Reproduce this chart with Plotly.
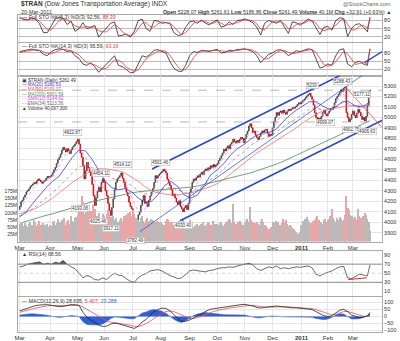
import plotly.graph_objects as go
import pandas as pd

# ---------------- data ----------------
holidays = ["2010-04-02", "2010-05-31", "2010-07-05", "2010-09-06",
            "2010-11-25", "2010-12-24", "2011-01-17", "2011-02-21"]
days = [d for d in pd.bdate_range("2010-03-01", "2011-03-18")
        if d.strftime("%Y-%m-%d") not in holidays]

close_mar10 = [4150, 4195, 4210, 4238, 4260, 4290, 4302, 4318, 4340, 4352, 4365, 4380, 4371, 4395, 4413, 4402, 4385, 4372, 4390, 4397, 4420, 4436, 4428]
close_apr10 = [4436, 4450, 4472, 4498, 4524, 4561, 4598, 4620, 4650, 4688, 4714, 4695, 4670, 4702, 4681, 4655, 4692, 4718, 4729, 4748, 4770]
close_may10 = [4792, 4745, 4660, 4619, 4539, 4413, 4490, 4571, 4520, 4480, 4444, 4360, 4254, 4160, 4230, 4295, 4334, 4290, 4380, 4413]
close_jun10 = [4380, 4300, 4254, 4180, 4110, 4065, 4140, 4223, 4310, 4380, 4413, 4430, 4444, 4470, 4420, 4380, 4330, 4287, 4250, 4190, 4150, 4128]
close_jul10 = [4060, 4002, 3950, 4010, 4070, 4097, 4160, 4210, 4254, 4180, 4192, 4150, 4210, 4250, 4287, 4320, 4380, 4444, 4420, 4445, 4460]
close_aug10 = [4470, 4485, 4505, 4492, 4470, 4410, 4380, 4350, 4310, 4254, 4270, 4230, 4192, 4170, 4205, 4150, 4128, 4100, 4140, 4160, 4120, 4180]
close_sep10 = [4287, 4320, 4380, 4413, 4400, 4425, 4444, 4430, 4460, 4476, 4455, 4490, 4508, 4495, 4520, 4508, 4539, 4525, 4550, 4530, 4545]
close_oct10 = [4560, 4587, 4610, 4634, 4660, 4697, 4680, 4710, 4729, 4700, 4745, 4760, 4792, 4770, 4755, 4780, 4760, 4790, 4810, 4800, 4760]
close_nov10 = [4800, 4839, 4870, 4918, 4940, 4900, 4856, 4870, 4830, 4808, 4790, 4820, 4850, 4871, 4860, 4880, 4887, 4850, 4820, 4840, 4830]
close_dec10 = [4900, 4960, 5000, 5046, 5020, 5050, 5061, 5040, 5070, 5046, 5030, 5060, 5077, 5065, 5080, 5093, 5085, 5100, 5110, 5125, 5141, 5130]
close_jan11 = [5150, 5160, 5172, 5190, 5205, 5219, 5230, 5200, 5172, 5120, 5046, 5000, 4970, 4995, 4966, 5010, 5046, 5070, 5030, 5014]
close_feb11 = [5040, 5061, 5080, 5077, 5100, 5140, 5180, 5200, 5219, 5240, 5265, 5250, 5280, 5288, 5046, 5000, 4960, 4982, 5030]
close_mar11 = [5061, 5020, 4998, 5040, 5077, 5050, 5014, 4980, 5000, 4966, 5010, 5120, 5228.58, 5261.49]
first_open = 4120

vol_mar10 = [62, 58, 71, 55, 66, 60, 52, 64, 70, 58, 61, 75, 68, 57, 63, 72, 59, 54, 66, 61, 58, 64, 52]
vol_apr10 = [60, 55, 68, 72, 58, 65, 80, 62, 70, 75, 66, 85, 59, 71, 78, 64, 90, 73, 68, 82, 88]
vol_may10 = [95, 110, 125, 160, 140, 98, 105, 112, 90, 120, 108, 95, 130, 115, 88, 92, 100, 85, 79, 96]
vol_jun10 = [90, 85, 98, 110, 95, 88, 80, 92, 76, 84, 70, 68, 75, 82, 73, 90, 86, 95, 100, 88, 105, 92]
vol_jul10 = [110, 98, 85, 80, 76, 70, 82, 90, 72, 66, 78, 85, 74, 68, 80, 77, 65, 70, 73, 62, 68]
vol_aug10 = [70, 64, 60, 58, 72, 80, 75, 68, 62, 70, 58, 55, 64, 60, 72, 66, 70, 78, 62, 55, 50, 60]
vol_sep10 = [75, 66, 60, 52, 55, 58, 62, 56, 60, 64, 70, 58, 55, 62, 68, 66, 60, 57, 72, 64, 58]
vol_oct10 = [62, 58, 66, 70, 60, 55, 62, 68, 72, 80, 75, 66, 132, 70, 64, 60, 68, 72, 65, 60, 58]
vol_nov10 = [66, 72, 80, 70, 122, 75, 68, 62, 66, 70, 64, 58, 72, 80, 68, 60, 55, 50, 45, 40, 52]
vol_dec10 = [70, 65, 62, 72, 68, 60, 58, 66, 80, 70, 75, 62, 56, 60, 55, 50, 45, 40, 35, 28, 32, 30]
vol_jan11 = [60, 72, 68, 80, 87, 75, 70, 66, 62, 72, 78, 85, 90, 76, 70, 68, 62, 75, 80, 70]
vol_feb11 = [75, 80, 90, 115, 85, 78, 70, 82, 75, 88, 80, 72, 76, 95, 161, 120, 110, 95, 90]
vol_mar11 = [85, 80, 88, 75, 115, 92, 82, 78, 90, 100, 95, 80, 70, 40.1]

# moving averages, read every 5 sessions (+ last session)
ma20 = [4050, 4100, 4180, 4260, 4330, 4390, 4440, 4530, 4620, 4690, 4680, 4600, 4490, 4390, 4330, 4310, 4320, 4290, 4230, 4190, 4200, 4260, 4350, 4390, 4340, 4260, 4230, 4260, 4350, 4450, 4500, 4560, 4640, 4700, 4740, 4790, 4830, 4850, 4860, 4890, 4960, 5020, 5070, 5110, 5150, 5150, 5110, 5080, 5100, 5150, 5150, 5110, 5100, 5140, 5150]
ma50 = [4080, 4100, 4120, 4150, 4190, 4230, 4280, 4330, 4380, 4420, 4460, 4490, 4510, 4510, 4500, 4490, 4470, 4430, 4390, 4340, 4300, 4280, 4270, 4260, 4260, 4270, 4280, 4300, 4320, 4340, 4370, 4410, 4460, 4510, 4560, 4610, 4660, 4700, 4740, 4780, 4820, 4860, 4900, 4950, 4990, 5030, 5060, 5080, 5090, 5100, 5110, 5110, 5110, 5110, 5109]
ma200 = [3990, 4010, 4030, 4050, 4065, 4080, 4100, 4120, 4140, 4160, 4180, 4195, 4210, 4225, 4240, 4255, 4270, 4280, 4290, 4295, 4300, 4305, 4310, 4315, 4320, 4325, 4335, 4345, 4360, 4375, 4390, 4405, 4420, 4435, 4450, 4470, 4490, 4510, 4530, 4555, 4580, 4610, 4640, 4670, 4700, 4730, 4760, 4790, 4820, 4850, 4880, 4910, 4940, 4965, 4970]
sma10 = [4120, 4220, 4320, 4380, 4400, 4430, 4540, 4650, 4690, 4720, 4620, 4440, 4330, 4330, 4260, 4330, 4390, 4240, 4100, 4120, 4260, 4400, 4460, 4420, 4260, 4150, 4180, 4380, 4470, 4500, 4530, 4620, 4720, 4760, 4770, 4850, 4870, 4840, 4850, 4950, 5050, 5065, 5095, 5140, 5190, 5150, 5020, 5040, 5130, 5240, 5140, 5030, 5020, 5100, 5144]
ema34 = [4060, 4090, 4130, 4180, 4230, 4280, 4340, 4410, 4470, 4530, 4540, 4520, 4490, 4460, 4420, 4400, 4390, 4350, 4300, 4270, 4270, 4290, 4320, 4330, 4310, 4280, 4280, 4310, 4360, 4410, 4450, 4510, 4570, 4630, 4670, 4730, 4770, 4800, 4820, 4860, 4910, 4950, 4990, 5030, 5080, 5090, 5070, 5070, 5100, 5140, 5130, 5100, 5090, 5105, 5114]

# indicators, read every 3 sessions (+ last session)
sto5_k = [92, 84, 82, 90, 85, 68, 35, 35, 60, 86, 92, 88, 65, 78, 40, 50, 72, 50, 55, 62, 18, 38, 52, 70, 75, 22, 25, 30, 18, 40, 80, 85, 50, 40, 80, 78, 70, 72, 70, 35, 25, 26, 55, 75, 78, 70, 82, 70, 64, 75, 82, 55, 60, 75, 65, 80, 82, 86, 80, 72, 55, 26, 70, 80, 75, 70, 80, 55, 32, 75, 72, 62, 75, 86, 78, 55, 28, 55, 58, 44, 80, 90, 88, 20, 50, 65, 68, 55, 38, 92.56]
sto5_d = [88, 86, 84, 85, 86, 78, 60, 45, 45, 62, 80, 88, 80, 75, 60, 55, 55, 58, 55, 56, 42, 38, 38, 52, 65, 55, 38, 26, 24, 30, 50, 70, 72, 58, 55, 68, 75, 72, 70, 58, 40, 28, 35, 52, 70, 75, 78, 76, 70, 70, 76, 70, 62, 65, 68, 72, 78, 83, 82, 78, 68, 48, 45, 60, 76, 75, 75, 68, 50, 52, 65, 70, 70, 78, 80, 70, 50, 42, 48, 52, 62, 78, 87, 65, 45, 45, 60, 62, 52, 88.39]
sto14_k = [85, 88, 92, 94, 90, 88, 75, 70, 85, 92, 95, 93, 85, 88, 70, 60, 40, 35, 45, 30, 10, 25, 40, 55, 70, 35, 30, 20, 8, 10, 40, 70, 65, 75, 90, 92, 85, 80, 50, 25, 15, 12, 35, 70, 85, 82, 90, 88, 85, 90, 93, 80, 82, 90, 88, 92, 94, 95, 90, 85, 70, 45, 60, 75, 80, 90, 92, 85, 70, 80, 88, 85, 90, 95, 92, 60, 25, 30, 40, 35, 70, 92, 95, 40, 30, 45, 50, 40, 35, 95.59]
sto14_d = [82, 85, 88, 91, 92, 90, 84, 78, 77, 82, 90, 93, 91, 88, 81, 73, 57, 45, 40, 37, 28, 22, 25, 40, 55, 53, 45, 28, 19, 13, 19, 40, 58, 70, 77, 86, 89, 86, 72, 52, 30, 17, 20, 39, 63, 79, 86, 87, 88, 88, 89, 88, 85, 84, 87, 90, 91, 93, 93, 90, 82, 67, 58, 60, 72, 82, 88, 89, 82, 78, 79, 84, 88, 90, 92, 82, 59, 38, 32, 35, 48, 66, 86, 76, 55, 38, 42, 45, 42, 93.16]
rsi14 = [64, 66, 70, 72, 73, 75, 70, 72, 70, 74, 72, 78, 70, 64, 60, 50, 40, 45, 42, 36, 35, 40, 36, 44, 50, 46, 44, 38, 32, 30, 40, 46, 49, 55, 57, 58, 55, 50, 45, 42, 38, 40, 48, 55, 57, 56, 55, 53, 56, 57, 60, 62, 62, 64, 63, 66, 68, 70, 72, 68, 60, 56, 60, 64, 62, 66, 60, 62, 60, 62, 64, 63, 65, 66, 62, 48, 44, 49, 52, 55, 60, 64, 65, 40, 38, 44, 48, 46, 44, 68.56]
macd_line = [40, 50, 62, 72, 78, 82, 86, 85, 80, 75, 70, 72, 80, 85, 84, 80, 30, -5, -25, -45, -62, -72, -70, -55, -48, -52, -60, -70, -80, -86, -70, -40, -20, 10, 35, 50, 60, 58, 40, 15, -15, -35, -35, -25, -10, 8, 25, 40, 50, 55, 60, 65, 68, 72, 75, 80, 85, 87, 82, 75, 65, 60, 65, 70, 72, 75, 72, 68, 65, 62, 62, 60, 58, 55, 50, 35, 20, 5, 0, 5, 25, 45, 52, 35, 10, 0, -8, -5, 5, 28.695]
macd_signal = [30, 36, 44, 52, 60, 66, 72, 76, 78, 78, 77, 76, 76, 78, 80, 80, 68, 52, 35, 18, 0, -18, -32, -40, -44, -47, -51, -56, -63, -70, -72, -65, -52, -35, -15, 5, 22, 35, 40, 35, 22, 8, -5, -14, -16, -10, 0, 12, 25, 35, 43, 50, 55, 60, 64, 68, 73, 77, 79, 79, 75, 70, 68, 68, 69, 71, 72, 71, 69, 67, 65, 63, 61, 59, 56, 49, 40, 28, 18, 12, 15, 25, 35, 36, 28, 18, 8, 2, 0, 5.407]
macd_hist = [10, 14, 18, 20, 18, 16, 14, 9, 2, -3, -7, -4, 4, 7, 4, 0, -38, -57, -60, -63, -62, -54, -38, -15, -4, -5, -9, -14, -17, -16, 2, 25, 32, 45, 50, 45, 38, 23, 0, -20, -37, -43, -30, -11, 6, 18, 25, 28, 25, 20, 17, 15, 13, 12, 11, 12, 12, 10, 3, -4, -10, -10, -3, 2, 3, 4, 0, -3, -4, -5, -3, -3, -3, -4, -6, -14, -20, -23, -18, -7, 10, 20, 17, -1, -18, -18, -16, -7, 5, 23.288]

# labelled highs / lows: (session, price, text)
price_labels = [(40, 4860, "4822.87"), (46, 4135, "4193.06"), (62, 4462, "4454.11"),
                (60, 4005, "4025.46"), (69, 3938, "3917.11"), (78, 4550, "4514.12"),
                (88, 3826, "3782.49"), (107, 4572, "4501.46"), (124, 3972, "4030.40"),
                (222, 5305, "5230"), (245, 5340, "5288.43"), (232, 4950, "4999.07"),
                (252, 4882, "4902.75"), (264, 4868, "4906.63"), (260, 5220, "5177.11")]
# drawn trend lines: ((session, value), (session, value))
channel_upper = ((100.5, 4508), (243.2, 5400))
channel_lower = ((121.7, 4014), (288.8, 5058))
channel_mid = ((91.3, 3910), (259.9, 5400))
red_trend = ((247, 5295), (275, 4906))
rsi_trend = ((249.5, 36), (263.5, 40))
sto14_trend = ((262, 46), (279, 96))
dashed_levels = [5260, 4957]

months = ["Mar", "Apr", "May", "Jun", "Jul", "Aug", "Sep", "Oct", "Nov", "Dec", "<b>2011</b>", "Feb", "Mar"]

# ---------------- build ----------------
close = (close_mar10 + close_apr10 + close_may10 + close_jun10 + close_jul10 + close_aug10 +
         close_sep10 + close_oct10 + close_nov10 + close_dec10 + close_jan11 + close_feb11 + close_mar11)
volume = (vol_mar10 + vol_apr10 + vol_may10 + vol_jun10 + vol_jul10 + vol_aug10 + vol_sep10 +
          vol_oct10 + vol_nov10 + vol_dec10 + vol_jan11 + vol_feb11 + vol_mar11)
n = len(days)
assert len(close) == n and len(volume) == n, (len(close), len(volume), n)
sess = list(range(n))
opens = [first_open] + close[:-1]
highs = [max(o, c) for o, c in zip(opens, close)]
lows = [min(o, c) for o, c in zip(opens, close)]
ma_x = list(range(0, n - 1, 5)) + [n - 1]
ind_x = list(range(0, n - 1, 3)) + [n - 1]

month_start = []
for i, d in enumerate(days):
    if i == 0 or d.month != days[i - 1].month:
        month_start.append(i)

W, H = 400, 341
L, R = 18, 18
PW = W - L - R


def px(xp):
    return (xp - L) / PW


def py(yp):
    return 1 - yp / H


FONT = "Liberation Sans, Arial, sans-serif"
GRID = "#e6e6e6"
XR = [-1.3, 275.1]

fig = go.Figure()

# volume (behind)
vcol = ["#b9b9b9" if c >= o else "#eaa6a6" for o, c in zip(opens, close)]
fig.add_trace(go.Bar(x=sess, y=volume, marker=dict(color=vcol, line=dict(width=0)),
                     xaxis="x3", yaxis="y6", width=0.85))

# moving averages
fig.add_trace(go.Scatter(x=ma_x, y=ma200, mode="lines", line=dict(color="#4f8a4f", width=0.8), xaxis="x3", yaxis="y3"))
fig.add_trace(go.Scatter(x=ma_x, y=ma50, mode="lines", line=dict(color="#f07070", width=0.8), xaxis="x3", yaxis="y3"))
fig.add_trace(go.Scatter(x=ma_x, y=ema34, mode="lines", line=dict(color="#808080", width=0.7, dash="dot"), xaxis="x3", yaxis="y3"))
fig.add_trace(go.Scatter(x=ma_x, y=ma20, mode="lines", line=dict(color="#3a3ad0", width=0.8), xaxis="x3", yaxis="y3"))
fig.add_trace(go.Scatter(x=ma_x, y=sma10, mode="lines", line=dict(color="#f070f0", width=0.7, dash="dot"), xaxis="x3", yaxis="y3"))

# candles
fig.add_trace(go.Candlestick(x=sess, open=opens, high=highs, low=lows, close=close,
                             increasing=dict(line=dict(color="#333333", width=0.8), fillcolor="#ffffff"),
                             decreasing=dict(line=dict(color="#dd0000", width=0.8), fillcolor="#dd0000"),
                             whiskerwidth=0, xaxis="x3", yaxis="y3"))

# stochastics
fig.add_trace(go.Scatter(x=ind_x, y=sto5_k, mode="lines", line=dict(color="#222222", width=0.8), xaxis="x", yaxis="y"))
fig.add_trace(go.Scatter(x=ind_x, y=sto5_d, mode="lines", line=dict(color="#ee3333", width=0.8), xaxis="x", yaxis="y"))
fig.add_trace(go.Scatter(x=ind_x, y=sto14_k, mode="lines", line=dict(color="#222222", width=0.8), xaxis="x2", yaxis="y2"))
fig.add_trace(go.Scatter(x=ind_x, y=sto14_d, mode="lines", line=dict(color="#ee3333", width=0.8), xaxis="x2", yaxis="y2"))

# RSI with shading above 70
fig.add_trace(go.Scatter(x=ind_x, y=[70] * len(ind_x), mode="lines", line=dict(width=0), xaxis="x4", yaxis="y4"))
fig.add_trace(go.Scatter(x=ind_x, y=[max(v, 70) for v in rsi14], mode="lines", line=dict(width=0),
                         fill="tonexty", fillcolor="#555555", xaxis="x4", yaxis="y4"))
fig.add_trace(go.Scatter(x=ind_x, y=rsi14, mode="lines", line=dict(color="#444444", width=0.8), xaxis="x4", yaxis="y4"))

# MACD
fig.add_trace(go.Scatter(x=ind_x, y=macd_hist, mode="lines", line=dict(color="#2d5fd6", width=0.5),
                         fill="tozeroy", fillcolor="#2d5fd6", xaxis="x5", yaxis="y5"))
fig.add_trace(go.Scatter(x=ind_x, y=macd_signal, mode="lines", line=dict(color="#f05050", width=0.8), xaxis="x5", yaxis="y5"))
fig.add_trace(go.Scatter(x=ind_x, y=macd_line, mode="lines", line=dict(color="#222222", width=0.8), xaxis="x5", yaxis="y5"))

# ---------------- axes ----------------
panels = {  # name: (top px, bottom px)
    "1": (15, 42.5), "2": (43, 76), "3": (76, 243), "4": (252, 297.7), "5": (299, 334)}


def xax(anchor, show):
    return dict(domain=[0, 1], range=XR, anchor=anchor, showgrid=True, gridcolor=GRID, gridwidth=1,
                tickmode="array", tickvals=month_start, ticktext=months if show else [""] * len(months),
                showticklabels=show, ticks="", zeroline=False, showline=True, linecolor="#aaaaaa",
                mirror=True, tickfont=dict(size=6, family=FONT, color="#333"), fixedrange=True,
                rangeslider=dict(visible=False))


layout = dict(width=W, height=H, margin=dict(l=L, r=R, t=0, b=0), paper_bgcolor="white",
              plot_bgcolor="white", showlegend=False, bargap=0,
              font=dict(family=FONT, size=6, color="#333"))
for k, (t, b) in panels.items():
    xname = "xaxis" if k == "1" else "xaxis" + k
    layout[xname] = xax("y" if k == "1" else "y" + k, k in ("3", "5"))

layout["yaxis"] = dict(domain=[py(42.5), py(15)], range=[-1, 101], side="right", anchor="x",
                       tickvals=[20, 50, 80], showgrid=True, gridcolor="#bbbbbb", zeroline=False,
                       tickfont=dict(size=5.5), showline=True, linecolor="#aaa", mirror=True)
layout["yaxis2"] = dict(domain=[py(76), py(43)], range=[-2, 117], side="right", anchor="x2",
                        tickvals=[20, 50, 80], showgrid=True, gridcolor="#bbbbbb", zeroline=False,
                        tickfont=dict(size=5.5), showline=True, linecolor="#aaa", mirror=True)
layout["yaxis3"] = dict(domain=[py(243), py(76)], range=[3815, 5400], side="right", anchor="x3",
                        tickvals=list(range(3900, 5301, 100)), showgrid=True, gridcolor=GRID, zeroline=False,
                        tickfont=dict(size=5.5), showline=True, linecolor="#aaa", mirror=True)
layout["yaxis6"] = dict(domain=[py(243), py(76)], range=[0, 578], overlaying="y3", side="left", anchor="x3",
                        tickvals=[25, 50, 75, 100, 125, 150, 175],
                        ticktext=["25M", "50M", "75M", "100M", "125M", "150M", "175M"],
                        showgrid=False, zeroline=False, tickfont=dict(size=5))
layout["yaxis4"] = dict(domain=[py(297.7), py(252)], range=[0, 100], side="right", anchor="x4",
                        tickvals=[10, 30, 50, 70, 90], showgrid=False, zeroline=False,
                        tickfont=dict(size=5.5), showline=True, linecolor="#aaa", mirror=True)
layout["yaxis5"] = dict(domain=[py(334), py(299)], range=[-112, 138], side="right", anchor="x5",
                        tickvals=[-100, -50, 0, 50, 100], showgrid=True, gridcolor=GRID, zeroline=False,
                        tickfont=dict(size=5.5), showline=True, linecolor="#aaa", mirror=True)

shapes = []
for lv in (30, 70):
    shapes.append(dict(type="line", xref="x4 domain", yref="y4", x0=0, x1=1, y0=lv, y1=lv,
                       line=dict(color="#888888", width=1)))
shapes.append(dict(type="line", xref="x4 domain", yref="y4", x0=0, x1=1, y0=50, y1=50,
                   line=dict(color="#bbbbbb", width=0.6, dash="dot")))
for lv in dashed_levels:
    shapes.append(dict(type="line", xref="x3 domain", yref="y3", x0=0, x1=1, y0=lv, y1=lv,
                       line=dict(color="#999999", width=0.7, dash="dash")))
for (a, b), w in ((channel_upper, 1.6), (channel_lower, 1.6), (channel_mid, 0.7)):
    shapes.append(dict(type="line", xref="x3", yref="y3", x0=a[0], y0=a[1], x1=b[0], y1=b[1],
                       line=dict(color="#2244dd", width=w)))
shapes.append(dict(type="line", xref="x3", yref="y3", x0=red_trend[0][0], y0=red_trend[0][1],
                   x1=red_trend[1][0], y1=red_trend[1][1], line=dict(color="#ee4444", width=0.8)))
shapes.append(dict(type="line", xref="x4", yref="y4", x0=rsi_trend[0][0], y0=rsi_trend[0][1],
                   x1=rsi_trend[1][0], y1=rsi_trend[1][1], line=dict(color="#ee2222", width=1)))
shapes.append(dict(type="line", xref="x2", yref="y2", x0=sto14_trend[0][0], y0=sto14_trend[0][1],
                   x1=sto14_trend[1][0], y1=sto14_trend[1][1], line=dict(color="#2244dd", width=1.4)))
layout["shapes"] = shapes

ann = []


def txt(x, y, s, size=6.5, color="#333", xanchor="left"):
    ann.append(dict(xref="paper", yref="paper", x=px(x), y=py(y), text=s, showarrow=False,
                    xanchor=xanchor, yanchor="middle", font=dict(size=size, color=color, family=FONT)))


txt(19, 4.5, "<b>$TRAN</b> (Dow Jones Transportation Average) INDX", 6.5)
txt(19, 12, "20-Mar-2011", 5.5)
txt(393, 4.5, "@StockCharts.com", 5.5, "#666", "right")
txt(393, 12, "<b>Open</b> 5228.07 <b>High</b> 5261.61 <b>Low</b> 5186.86 <b>Close</b> 5261.49 "
             "<b>Volume</b> 40.1M <b>Chg</b> +32.91 (+0.63%) ▲", 5.2, "#333", "right")
txt(20, 17.5, "— Full STO %K(5,3) %D(3) 92.56, <span style='color:#ee3333'>88.39</span>", 5.2)
txt(20, 46.5, "— Full STO %K(14,3) %D(3) 95.59, <span style='color:#ee3333'>93.16</span>", 5.2)
leg = [("▣ $TRAN (Daily) 5261.49", "#333"), ("— MA(20) 5180.63", "#3a3ad0"),
       ("— MA(50) 5109.17", "#e05050"), ("— MA(200) 5001.59", "#4f8a4f"),
       ("- - SMA(10) 5144.62", "#e040e0"), ("- - EMA(34) 5113.56", "#666"),
       ("▲ Volume 40,097,300", "#333")]
for i, (s, c) in enumerate(leg):
    txt(20, 80.5 + i * 4.7, s, 4.6, c)
txt(20, 255, "▲ RSI(14) 68.56", 5.2)
txt(20, 302.5, "— MACD(12,26,9) 28.695, <span style='color:#ee3333'>5.407</span>, "
               "<span style='color:#2d5fd6'>23.288</span>", 5.2)

for s, p, t in price_labels:
    ann.append(dict(xref="x3", yref="y3", x=s, y=p, text=t, showarrow=False,
                    font=dict(size=4.5, color="#333", family=FONT), bgcolor="white",
                    bordercolor="#aaaaaa", borderwidth=0.5, borderpad=0.5))
layout["annotations"] = ann

fig.update_layout(**layout)
fig.write_html("out.html", config={"displayModeBar": False})
